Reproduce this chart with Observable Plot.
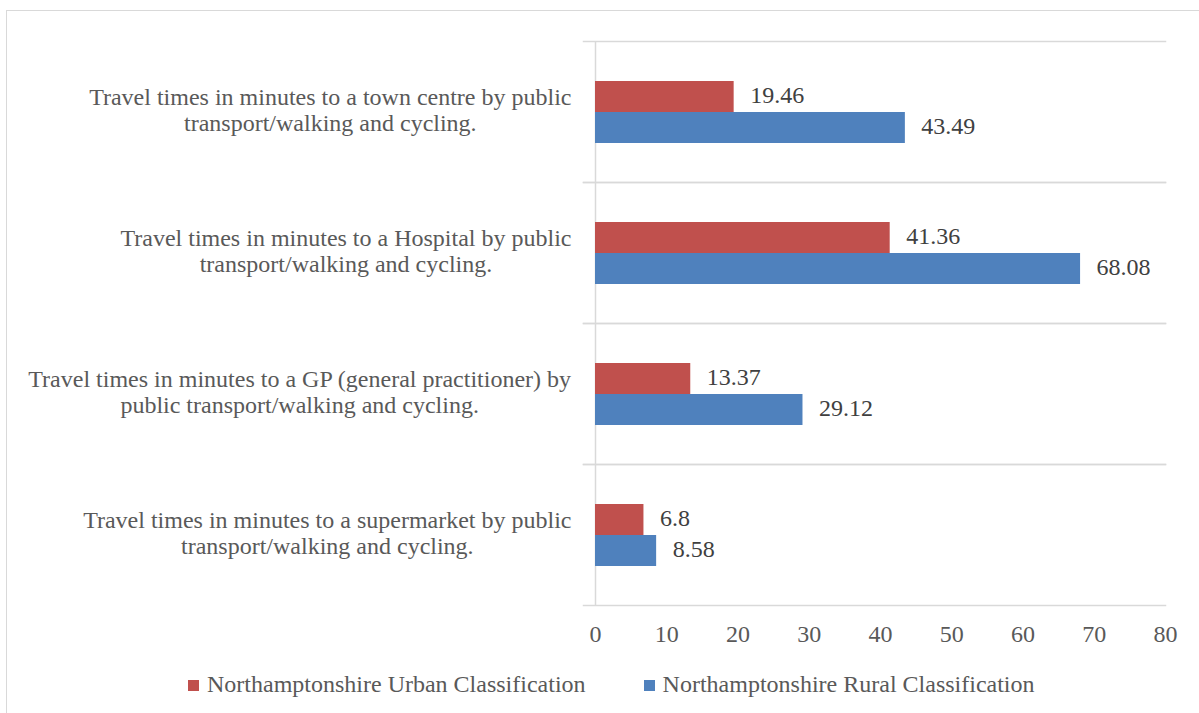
<!DOCTYPE html>
<html>
<head>
<meta charset="utf-8">
<script src="https://cdn.jsdelivr.net/npm/d3@7"></script>
<script src="https://cdn.jsdelivr.net/npm/@observablehq/plot@0.6"></script>
<style>
  body { margin: 0; background: #fff; font-family: "Liberation Serif", "Times New Roman", serif; }
  #border { position: absolute; left: 6px; top: 10px; width: 1300px; height: 800px; border: 1px solid #d9d9d9; box-sizing: border-box; }
  #chart { position: absolute; left: 0; top: 0; }
  #legend { position: absolute; left: 188px; top: 670px; display: flex; align-items: center; font-size: 24px; line-height: 28px; color: #595959; white-space: nowrap; }
  .item { display: flex; align-items: center; margin-right: 58px; }
  .key { width: 11px; height: 11px; margin-right: 8px; margin-top: 2px; }
</style>
</head>
<body>
<div id="border"></div>
<div id="chart"></div>
<div id="legend"></div>
<script>
const categories = [
  "Travel times in minutes to a town centre by public transport/walking and cycling.",
  "Travel times in minutes to a Hospital by public transport/walking and cycling.",
  "Travel times in minutes to a GP (general practitioner) by public transport/walking and cycling.",
  "Travel times in minutes to a supermarket by public transport/walking and cycling."
];
const labelLines = [
  ["Travel times in minutes to a town centre by public", "transport/walking and cycling."],
  ["Travel times in minutes to a Hospital by public", "transport/walking and cycling."],
  ["Travel times in minutes to a GP (general practitioner) by", "public transport/walking and cycling."],
  ["Travel times in minutes to a supermarket by public", "transport/walking and cycling."]
];
const seriesNames = ["Northamptonshire Urban Classification", "Northamptonshire Rural Classification"];
const urbanValues = [19.46, 41.36, 13.37, 6.8];
const ruralValues = [43.49, 68.08, 29.12, 8.58];
const seriesColors = ["#c0504d", "#4f81bd"];
const xTicks = [0, 10, 20, 30, 40, 50, 60, 70, 80];

const rows = categories.flatMap((c, i) => [
  {category: c, series: seriesNames[0], value: urbanValues[i]},
  {category: c, series: seriesNames[1], value: ruralValues[i]}
]);

const ctx = document.createElement("canvas").getContext("2d");
ctx.font = '24px "Liberation Serif"';
const labelGap = 24;

const labelMarks = categories.map((c, i) => {
  const w = Math.max(...labelLines[i].map(s => ctx.measureText(s).width));
  return Plot.text([c], {
    fy: d => d,
    frameAnchor: "left",
    text: () => labelLines[i].join("\n"),
    textAnchor: "middle",
    lineAnchor: "middle",
    lineHeight: 1.06,
    dx: -(labelGap + w / 2),
    dy: -2,
    fill: "#595959"
  });
});

const chart = Plot.plot({
  width: 1199,
  height: 660,
  marginLeft: 595,
  marginRight: 34,
  marginTop: 41,
  marginBottom: 55,
  style: {fontFamily: '"Liberation Serif", "Times New Roman", serif', fontSize: "24px", color: "#595959", background: "transparent", overflow: "visible"},
  x: {domain: [0, 80], ticks: xTicks, tickSize: 0, tickPadding: 19, label: null, tickFormat: d => String(d)},
  fy: {domain: categories, padding: 0, axis: null, label: null},
  y: {domain: seriesNames, axis: null, paddingInner: 0, paddingOuter: 1.24},
  color: {domain: seriesNames, range: seriesColors},
  marks: [
    Plot.frame({anchor: "top", stroke: "#d9d9d9", strokeWidth: 1.5, insetLeft: -12}),
    Plot.frame({anchor: "bottom", stroke: "#d9d9d9", strokeWidth: 1.5, insetLeft: -12}),
    Plot.ruleX([0], {stroke: "#d9d9d9", strokeWidth: 1.5}),
    Plot.barX(rows, {fy: "category", y: "series", x: "value", fill: "series"}),
    Plot.text(rows, {fy: "category", y: "series", x: "value", text: d => String(d.value), textAnchor: "start", dx: 16, dy: -2, fill: "#404040"}),
    ...labelMarks
  ]
});
document.getElementById("chart").appendChild(chart);

const legend = document.getElementById("legend");
seriesNames.forEach((name, i) => {
  const item = document.createElement("div");
  item.className = "item";
  const key = document.createElement("span");
  key.className = "key";
  key.style.background = seriesColors[i];
  const label = document.createElement("span");
  label.textContent = name;
  item.appendChild(key);
  item.appendChild(label);
  legend.appendChild(item);
});
</script>
</body>
</html>
